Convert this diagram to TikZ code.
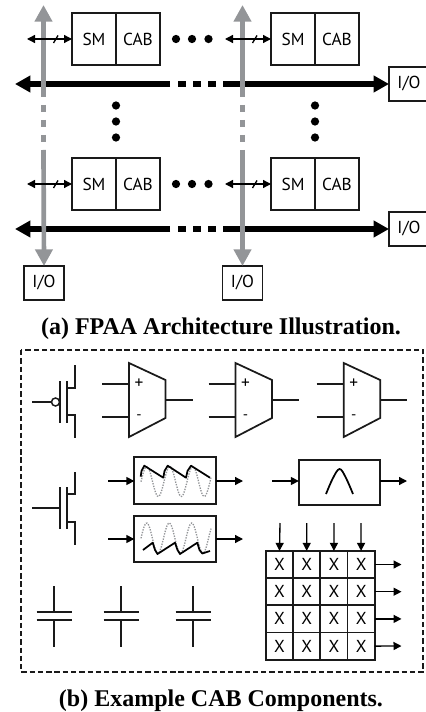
\documentclass[tikz,border=0pt]{standalone}
\usepackage{xcolor}
\usepackage{fontspec}
\setmainfont{Liberation Serif}
\setsansfont{PT Sans}
\usetikzlibrary{arrows.meta, positioning}
\definecolor{fpgrid}{HTML}{939598}
\definecolor{fpink}{HTML}{1A1A1A}

\begin{document}
\begin{tikzpicture}[
    x=0.75pt, y=-0.75pt,
    block/.style={draw=fpink, line width=1.1pt, inner sep=0pt, outer sep=0pt, minimum width=33pt, minimum height=39pt, font=\sffamily\fontsize{13}{13}\selectfont},
    iobox/.style={draw=fpink, line width=1.1pt, inner sep=0pt, outer sep=0pt, minimum width=30pt, minimum height=25.5pt, font=\sffamily\fontsize{13}{13}\selectfont},
    cell/.style={draw=fpink, line width=1.3pt, inner sep=0pt, outer sep=0pt, minimum size=20.4pt, font=\sffamily\fontsize{13}{13}\selectfont},
    wavebox/.style={draw=fpink, line width=1.3pt, inner sep=0pt, outer sep=0pt, minimum width=61pt, minimum height=35pt},
    dotnode/.style={circle, fill=black, inner sep=0pt, minimum size=6.2pt},
    busblack/.style={-{Triangle[length=11.5pt, width=12pt]}, line width=4.6pt, color=black},
    busgrey/.style={-{Triangle[length=12.5pt, width=12.75pt]}, line width=3.5pt, color=fpgrid},
    smallarrow/.style={-{Triangle[length=6pt, width=6pt]}, line width=1pt, color=black},
    linkarrow/.style={{Triangle[length=6pt, width=6pt]}-{Triangle[length=6pt, width=6pt]}, line width=1pt, color=black},
    wire/.style={line width=1.1pt, color=fpink},
    gapblack/.style={line width=4.6pt, color=black, dash pattern=on 6pt off 5.25pt},
    gapgrey/.style={line width=3.5pt, color=fpgrid, dash pattern=on 5.6pt off 5.6pt},
    sine/.style={line width=1pt, color=fpgrid, densely dotted},
    saw/.style={line width=1.3pt, color=black, line join=round},
    opamp/.pic={
        \draw[wire, line width=1.3pt, fill=white] (0,0) -- (36.5,17) -- (36.5,55) -- (0,74) -- cycle;
        \draw[wire] (-27,21) -- (0,21);
        \draw[wire] (-27,54) -- (0,54);
        \draw[wire] (36.5,37) -- (63.5,37);
        \node[font=\sffamily\fontsize{13}{13}\selectfont] (plus) at (10,21) {+};
        \node[font=\sffamily\fontsize{11}{11}\selectfont] (minus) at (10,54) {-};
    },
    capacitor/.pic={
        \draw[wire] (0,0) -- (0,26);
        \draw[wire] (-17.5,26) -- (17.5,26);
        \draw[wire] (-17.5,34) -- (17.5,34);
        \draw[wire] (0,34) -- (0,61);
    }
]
\useasboundingbox (0,0) rectangle (425,712);

% architecture blocks
\node[block] (sma)  at (94,39)   {SM};
\node[block, right=0pt of sma]  (caba) {CAB};
\node[block] (smb)  at (293,39)  {SM};
\node[block, right=0pt of smb]  (cabb) {CAB};
\node[block] (smc)  at (94,184)  {SM};
\node[block, right=0pt of smc]  (cabc) {CAB};
\node[block] (smd)  at (293,184) {SM};
\node[block, right=0pt of smd]  (cabd) {CAB};

\node[iobox] (ioe) at (409,84)    {I/O};
\node[iobox] (iof) at (409,229)   {I/O};
\node[iobox] (iog) at (44,283)    {I/O};
\node[iobox] (ioh) at (242.5,283) {I/O};

% black buses
\coordinate (busal) at (15,84);
\coordinate (busam) at (170,84);
\coordinate (busan) at (223,84);
\coordinate (busbl) at (15,229);
\coordinate (busbm) at (170,229);
\coordinate (busbn) at (223,229);
\draw[busblack] (busam) -- (busal);
\draw[busblack] (busan) -- (ioe.west);
\draw[gapblack] (178,84) -- (216,84);
\draw[busblack] (busbm) -- (busbl);
\draw[busblack] (busbn) -- (iof.west);
\draw[gapblack] (178,229) -- (216,229);

% grey buses
\coordinate (vertat) at (43.5,5);
\coordinate (vertam) at (43.5,97);
\coordinate (vertan) at (43.5,150);
\coordinate (vertbt) at (242.5,5);
\coordinate (vertbm) at (242.5,97);
\coordinate (vertbn) at (242.5,150);
\draw[busgrey] (vertam) -- (vertat);
\draw[busgrey] (vertan) -- (iog.north);
\draw[gapgrey] (43.5,105) -- (43.5,143);
\draw[busgrey] (vertbm) -- (vertbt);
\draw[busgrey] (vertbn) -- (ioh.north);
\draw[gapgrey] (242.5,105) -- (242.5,143);

% local links
\coordinate (linka) at (27,39);
\coordinate (linkb) at (225,39);
\coordinate (linkc) at (27,184);
\coordinate (linkd) at (225,184);
\draw[linkarrow] (linka) -- (sma.west);
\draw[linkarrow] (linkb) -- (smb.west);
\draw[linkarrow] (linkc) -- (smc.west);
\draw[linkarrow] (linkd) -- (smd.west);
\draw[line width=1pt] (53.5,43) -- (58,35.5);
\draw[line width=1pt] (252.5,43) -- (257,35.5);
\draw[line width=1pt] (53.5,188) -- (58,180.5);
\draw[line width=1pt] (252.5,188) -- (257,180.5);

% ellipsis dots
\node[dotnode] (dota) at (176,39)    {};
\node[dotnode] (dotb) at (192,39)    {};
\node[dotnode] (dotc) at (208.5,39)  {};
\node[dotnode] (dotd) at (176,184)   {};
\node[dotnode] (dote) at (192,184)   {};
\node[dotnode] (dotf) at (208.5,184) {};
\node[dotnode] (dotg) at (116,105.5) {};
\node[dotnode] (doth) at (116,121.5) {};
\node[dotnode] (doti) at (116,137.5) {};
\node[dotnode] (dotj) at (315,105.5) {};
\node[dotnode] (dotk) at (315,121.5) {};
\node[dotnode] (dotl) at (315,137.5) {};

\node[font=\bfseries\fontsize{18}{18}\selectfont] (capa) at (221,329) {(a) FPAA Architecture Illustration.};

% CAB frame
\draw[line width=1.1pt, color=fpink, dash pattern=on 4pt off 2.2pt] (21,350) rectangle (423,672);

% transistors
\node[circle, draw=fpink, line width=1.1pt, fill=white, inner sep=0pt, minimum size=6pt] (bubble) at (55.5,402) {};
\coordinate (gatep) at (32,402);
\draw[wire] (gatep) -- (bubble.west);
\draw[wire, line width=1.3pt] (60,381) -- (60,423);
\draw[wire, line width=1.3pt] (67,381) -- (67,423);
\draw[wire, line width=1.3pt] (67,388) -- (75,388) -- (75,365);
\draw[wire, line width=1.3pt] (67,415) -- (75,415) -- (75,438);

\coordinate (gaten) at (32,508);
\coordinate (gatem) at (60,508);
\draw[wire] (gaten) -- (gatem);
\draw[wire, line width=1.3pt] (60,487) -- (60,529);
\draw[wire, line width=1.3pt] (67,487) -- (67,529);
\draw[wire, line width=1.3pt] (67,494) -- (75,494) -- (75,472);
\draw[wire, line width=1.3pt] (67,522) -- (75,522) -- (75,545);

% amplifiers
\pic (ampa) at (129,363)   {opamp};
\pic (ampb) at (235.5,363) {opamp};
\pic (ampc) at (343.7,363) {opamp};

% waveform blocks
\node[wavebox] (wavea) at (175,480.5) {};
\node[wavebox] (waveb) at (175,539)   {};
\node[wavebox, minimum height=33.75pt] (bandp) at (339.5,482.5) {};
\coordinate (inwa) at (108,481);
\coordinate (inwb) at (108,539);
\coordinate (inbp) at (272,481);
\coordinate (outwa) at (243,481);
\coordinate (outwb) at (243,539);
\coordinate (outbp) at (407,481);
\draw[smallarrow] (inwa) -- (inwa -| wavea.west);
\draw[smallarrow] (inwb) -- (inwb -| waveb.west);
\draw[smallarrow] (inbp) -- (inbp -| bandp.west);
\draw[smallarrow] (outwa -| wavea.east) -- (outwa);
\draw[smallarrow] (outwb -| waveb.east) -- (outwb);
\draw[smallarrow] (outbp -| bandp.east) -- (outbp);

\draw[sine] plot[domain=141:211, samples=70] (\x, {481.5+15*cos((\x-158.3)*15.65)});
\draw[saw] (140.7,476.7) -- (141.5,471) -- (144.3,465.7) -- (163.3,477.7) -- (164.5,471) -- (167.7,465.7) -- (186,477.7) -- (187.5,471) -- (191,465.7) -- (210,477.7);
\draw[sine] plot[domain=141:211, samples=70] (\x, {538-15*cos((\x-146.7)*16)});
\draw[saw] (143,550) -- (152.7,542.7) -- (155,550) -- (157.5,554) -- (175,542.7) -- (177.5,550) -- (180,554) -- (197.3,542.7) -- (199.5,550) -- (202.3,553.5) -- (210,551);
\draw[saw] plot[smooth, tension=0.6] coordinates {(326,494) (333,478) (339.5,469) (345.5,477) (353,494)};

% crossbar
\node[cell] (xaa) at (279.5,564.5) {X};
\node[cell, right=0pt of xaa] (xab) {X};
\node[cell, right=0pt of xab] (xac) {X};
\node[cell, right=0pt of xac] (xad) {X};
\node[cell, below=0pt of xaa] (xba) {X};
\node[cell, right=0pt of xba] (xbb) {X};
\node[cell, right=0pt of xbb] (xbc) {X};
\node[cell, right=0pt of xbc] (xbd) {X};
\node[cell, below=0pt of xba] (xca) {X};
\node[cell, right=0pt of xca] (xcb) {X};
\node[cell, right=0pt of xcb] (xcc) {X};
\node[cell, right=0pt of xcc] (xcd) {X};
\node[cell, below=0pt of xca] (xda) {X};
\node[cell, right=0pt of xda] (xdb) {X};
\node[cell, right=0pt of xdb] (xdc) {X};
\node[cell, right=0pt of xdc] (xdd) {X};

\coordinate (ina) at (280,523);
\coordinate (inb) at (306.8,523);
\coordinate (inc) at (334,523);
\coordinate (ind) at (361,523);
\draw[smallarrow] (ina) -- (xaa.north);
\draw[smallarrow] (inb) -- (xab.north);
\draw[smallarrow] (inc) -- (xac.north);
\draw[smallarrow] (ind) -- (xad.north);
\coordinate (outa) at (401.5,564.5);
\coordinate (outb) at (401.5,591.7);
\coordinate (outc) at (401.5,618.9);
\coordinate (outd) at (401.5,646);
\draw[smallarrow] (xad.east) -- (outa);
\draw[smallarrow] (xbd.east) -- (outb);
\draw[smallarrow] (xcd.east) -- (outc);
\draw[smallarrow] (xdd.east) -- (outd);

% capacitors
\pic (capx) at (54,586)  {capacitor};
\pic (capy) at (121,586) {capacitor};
\pic (capz) at (193,586) {capacitor};

\node[font=\bfseries\fontsize{18}{18}\selectfont] (capb) at (221,700.5) {(b) Example CAB Components.};
\end{tikzpicture}
\end{document}
